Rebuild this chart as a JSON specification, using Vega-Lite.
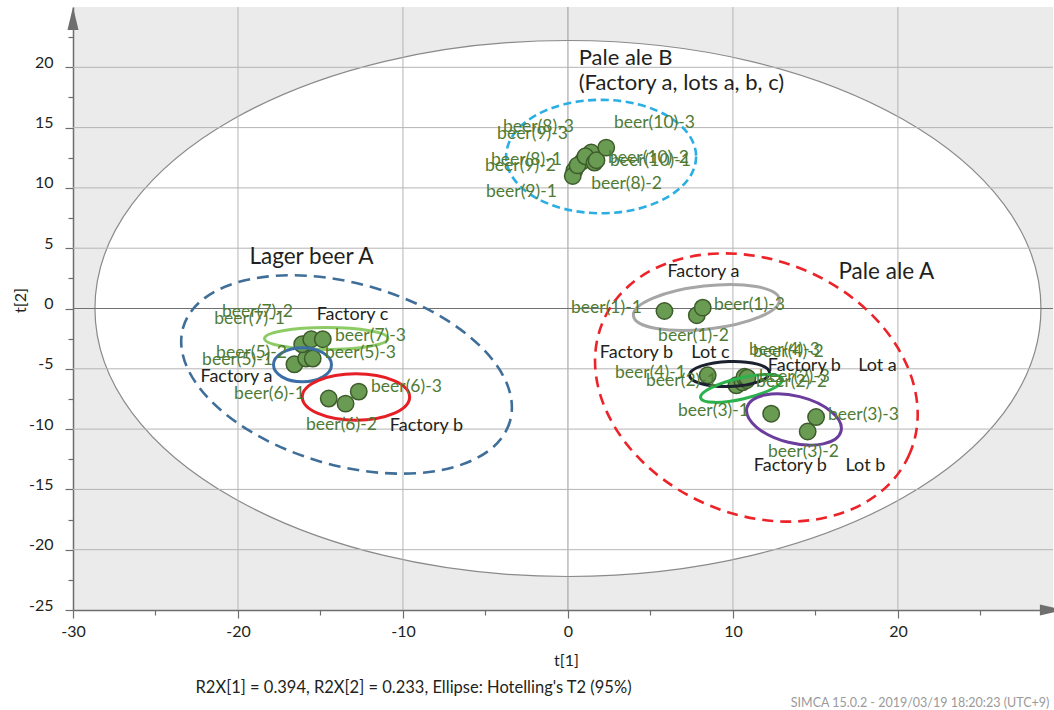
{
  "$schema": "https://vega.github.io/schema/vega-lite/v6.json",
  "width": 980,
  "height": 603,
  "autosize": "none",
  "padding": {"left": 73, "top": 7, "right": 1, "bottom": 100},
  "background": "white",
  "config": {
    "view": {"fill": "#ebebeb", "stroke": null},
    "font": "Lato",
    "axis": {
      "grid": false,
      "domainColor": "#6e6e6e",
      "domainWidth": 1.5,
      "tickColor": "#6e6e6e",
      "tickWidth": 1.2,
      "labelFont": "Lato",
      "labelFontSize": 16,
      "labelColor": "#231f20",
      "titleFont": "Lato",
      "titleFontSize": 16,
      "titleFontWeight": "normal",
      "titleColor": "#231f20",
      "labelFlush": false,
      "labelOverlap": false
    }
  },
  "datasets": {
    "points": [
      {"obs": "beer(1)-1", "t1": 5.85, "t2": -0.21},
      {"obs": "beer(1)-2", "t1": 7.81, "t2": -0.56},
      {"obs": "beer(1)-3", "t1": 8.17, "t2": 0.07},
      {"obs": "beer(2)-1", "t1": 10.21, "t2": -6.37},
      {"obs": "beer(2)-2", "t1": 10.58, "t2": -6.12},
      {"obs": "beer(2)-3", "t1": 10.82, "t2": -5.95},
      {"obs": "beer(3)-1", "t1": 12.32, "t2": -8.72},
      {"obs": "beer(3)-2", "t1": 14.53, "t2": -10.2},
      {"obs": "beer(3)-3", "t1": 15.04, "t2": -9.0},
      {"obs": "beer(4)-1", "t1": 8.47, "t2": -5.54},
      {"obs": "beer(4)-2", "t1": 10.7, "t2": -5.66},
      {"obs": "beer(4)-3", "t1": 10.88, "t2": -5.74},
      {"obs": "beer(5)-1", "t1": -16.58, "t2": -4.63},
      {"obs": "beer(5)-2", "t1": -15.87, "t2": -4.15},
      {"obs": "beer(5)-3", "t1": -15.47, "t2": -4.15},
      {"obs": "beer(6)-1", "t1": -14.5, "t2": -7.47},
      {"obs": "beer(6)-2", "t1": -13.48, "t2": -7.89},
      {"obs": "beer(6)-3", "t1": -12.68, "t2": -6.89},
      {"obs": "beer(7)-1", "t1": -16.11, "t2": -2.97},
      {"obs": "beer(7)-2", "t1": -15.56, "t2": -2.55},
      {"obs": "beer(7)-3", "t1": -14.86, "t2": -2.55},
      {"obs": "beer(8)-1", "t1": 0.88, "t2": 12.21},
      {"obs": "beer(8)-2", "t1": 0.39, "t2": 11.46},
      {"obs": "beer(8)-3", "t1": 1.41, "t2": 12.93},
      {"obs": "beer(9)-1", "t1": 0.29, "t2": 10.99},
      {"obs": "beer(9)-2", "t1": 0.58, "t2": 11.87},
      {"obs": "beer(9)-3", "t1": 1.06, "t2": 12.62},
      {"obs": "beer(10)-1", "t1": 1.61, "t2": 12.1},
      {"obs": "beer(10)-2", "t1": 1.73, "t2": 12.29},
      {"obs": "beer(10)-3", "t1": 2.32, "t2": 13.34}
    ],
    "obsLabels": [
      {"label": "beer(1)-1", "x": 2.33, "y": 0.08},
      {"label": "beer(1)-2", "x": 7.61, "y": -2.32},
      {"label": "beer(1)-3", "x": 11.0, "y": 0.33},
      {"label": "beer(2)-1", "x": 6.88, "y": -6.05},
      {"label": "beer(2)-2", "x": 13.55, "y": -6.13},
      {"label": "beer(2)-3", "x": 13.73, "y": -5.72},
      {"label": "beer(3)-1", "x": 8.82, "y": -8.54},
      {"label": "beer(3)-2", "x": 14.27, "y": -11.94},
      {"label": "beer(3)-3", "x": 17.91, "y": -8.79},
      {"label": "beer(4)-1", "x": 5.0, "y": -5.31},
      {"label": "beer(4)-2", "x": 13.36, "y": -3.57},
      {"label": "beer(4)-3", "x": 13.12, "y": -3.4},
      {"label": "beer(5)-1", "x": -20.03, "y": -4.23},
      {"label": "beer(5)-2", "x": -19.18, "y": -3.65},
      {"label": "beer(5)-3", "x": -12.58, "y": -3.73},
      {"label": "beer(6)-1", "x": -18.09, "y": -7.13},
      {"label": "beer(6)-2", "x": -13.73, "y": -9.62},
      {"label": "beer(6)-3", "x": -9.79, "y": -6.55},
      {"label": "beer(7)-1", "x": -19.3, "y": -0.91},
      {"label": "beer(7)-2", "x": -18.82, "y": -0.33},
      {"label": "beer(7)-3", "x": -11.97, "y": -2.32},
      {"label": "beer(8)-1", "x": -2.52, "y": 12.35},
      {"label": "beer(8)-2", "x": 3.55, "y": 10.36},
      {"label": "beer(8)-3", "x": -1.79, "y": 15.01},
      {"label": "beer(9)-1", "x": -2.82, "y": 9.62},
      {"label": "beer(9)-2", "x": -2.88, "y": 11.78},
      {"label": "beer(9)-3", "x": -2.15, "y": 14.43},
      {"label": "beer(10)-1", "x": 5.0, "y": 12.27},
      {"label": "beer(10)-2", "x": 4.88, "y": 12.52},
      {"label": "beer(10)-3", "x": 5.24, "y": 15.42}
    ],
    "notes": [
      {"text": "Pale ale B", "x": 0.65, "y": 20.73, "role": "block"},
      {"text": "(Factory a, lots a, b, c)", "x": 0.65, "y": 18.66, "role": "block"},
      {"text": "Lager beer A", "x": -15.55, "y": 4.23, "role": "group"},
      {"text": "Pale ale A", "x": 19.3, "y": 2.99, "role": "group"},
      {"text": "Factory c", "x": -13.06, "y": -0.5, "role": "sub"},
      {"text": "Factory a", "x": -20.09, "y": -5.64, "role": "sub"},
      {"text": "Factory b", "x": -8.58, "y": -9.78, "role": "sub"},
      {"text": "Factory a", "x": 8.21, "y": 2.99, "role": "sub"},
      {"text": "Factory b", "x": 4.15, "y": -3.73, "role": "sub"},
      {"text": "Lot c", "x": 8.64, "y": -3.73, "role": "sub"},
      {"text": "Factory b", "x": 14.33, "y": -4.73, "role": "sub"},
      {"text": "Lot a", "x": 18.76, "y": -4.73, "role": "sub"},
      {"text": "Factory b", "x": 13.48, "y": -13.1, "role": "sub"},
      {"text": "Lot b", "x": 18.03, "y": -13.1, "role": "sub"}
    ],
    "footer": [
      {"text": "R2X[1] = 0.394, R2X[2] = 0.233, Ellipse: Hotelling's T2 (95%)", "x": -9.36, "y": -31.43, "role": "caption"},
      {"text": "SIMCA 15.0.2 - 2019/03/19 18:20:23 (UTC+9)", "x": 29.18, "y": -32.67, "role": "stamp"}
    ],
    "ellipses": [
      {"group": "Hotelling T2 95", "t1": 0, "t2": 0},
      {"group": "Pale ale B", "t1": 2.01, "t2": 12.6},
      {"group": "Lager beer A", "t1": -13.42, "t2": -5.47},
      {"group": "Pale ale A", "t1": 11.42, "t2": -6.55},
      {"group": "Pale ale A Factory a", "t1": 8.39, "t2": 0.08},
      {"group": "Pale ale A Factory b Lot c", "t1": 9.79, "t2": -5.43},
      {"group": "Pale ale A Factory b Lot a", "t1": 10.52, "t2": -6.63},
      {"group": "Pale ale A Factory b Lot b", "t1": 13.7, "t2": -9.2},
      {"group": "Lager beer A Factory c", "t1": -14.65, "t2": -2.49},
      {"group": "Lager beer A Factory a", "t1": -16.09, "t2": -4.67},
      {"group": "Lager beer A Factory b", "t1": -12.85, "t2": -7.34}
    ],
    "gridX": [{"v": -20}, {"v": -10}, {"v": 0}, {"v": 10}, {"v": 20}],
    "gridY": [{"v": -20}, {"v": -15}, {"v": -10}, {"v": -5}, {"v": 0}, {"v": 5}, {"v": 10}, {"v": 15}, {"v": 20}],
    "arrows": [
      {"axis": "t2", "x": -30, "y": 25},
      {"axis": "t1", "x": 29.4, "y": -25}
    ]
  },
  "layer": [
    {
      "data": {"name": "ellipses"},
      "transform": [{"filter": "datum.group === 'Hotelling T2 95'"}],
      "mark": {"type": "point", "shape": "M1,0C1,0.3129,0.5523,0.5666,0,0.5666C-0.5523,0.5666,-1,0.3129,-1,0C-1,-0.3129,-0.5523,-0.5666,0,-0.5666C0.5523,-0.5666,1,-0.3129,1,0Z", "size": 894916, "filled": true, "fill": "white", "stroke": "#8a8a8a", "strokeWidth": 1.2, "opacity": 1},
      "encoding": {
        "x": {"field": "t1", "type": "quantitative", "scale": {"domain": [-30, 29.4], "nice": false, "zero": false},
          "axis": {"orient": "bottom", "values": [-30, -20, -10, 0, 10, 20], "tickSize": 8, "labelPadding": 5, "labelExpr": "'' + datum.value", "title": "t[1]", "titleX": 493, "titleY": 50, "titleBaseline": "middle"}},
        "y": {"field": "t2", "type": "quantitative", "scale": {"domain": [-25, 25], "nice": false, "zero": false},
          "axis": {"orient": "left", "values": [-25, -20, -15, -10, -5, 0, 5, 10, 15, 20], "tickSize": 8, "labelPadding": 12, "labelBaseline": "alphabetic", "labelExpr": "'' + datum.value", "title": "t[2]", "titleX": -53, "titleY": 293, "titleAngle": -90, "titleBaseline": "middle"}}
      }
    },
    {
      "data": {"name": "gridX"},
      "mark": {"type": "rule", "strokeWidth": 1},
      "encoding": {
        "x": {"field": "v", "type": "quantitative", "scale": {"domain": [-30, 29.4], "nice": false, "zero": false},
          "axis": {"orient": "bottom", "values": [-25, -15, -5, 5, 15, 25], "tickSize": 5, "labels": false, "domain": false, "title": null}},
        "stroke": {"condition": {"test": "datum.v === 0", "value": "#9a9a9a"}, "value": "#b5b5b5"}
      }
    },
    {
      "data": {"name": "gridY"},
      "mark": {"type": "rule", "strokeWidth": 1},
      "encoding": {
        "y": {"field": "v", "type": "quantitative", "scale": {"domain": [-25, 25], "nice": false, "zero": false},
          "axis": {"orient": "left", "values": [-22.5, -17.5, -12.5, -7.5, -2.5, 2.5, 7.5, 12.5, 17.5, 22.5], "tickSize": 5, "labels": false, "domain": false, "title": null}},
        "stroke": {"condition": {"test": "datum.v === 0", "value": "#707070"}, "value": "#b5b5b5"}
      }
    },
    {
      "data": {"name": "ellipses"},
      "transform": [{"filter": "datum.group === 'Pale ale B'"}],
      "mark": {"type": "point", "shape": "M1,0C1,0.3297,0.5523,0.597,0,0.597C-0.5523,0.597,-1,0.3297,-1,0C-1,-0.3297,-0.5523,-0.597,0,-0.597C0.5523,-0.597,1,-0.3297,1,0Z", "size": 36100, "filled": false, "stroke": "#2aaee4", "strokeWidth": 2.6, "strokeDash": [8, 4.5], "opacity": 1},
      "encoding": {
        "x": {"field": "t1", "type": "quantitative", "scale": {"domain": [-30, 29.4], "nice": false, "zero": false}, "axis": null},
        "y": {"field": "t2", "type": "quantitative", "scale": {"domain": [-25, 25], "nice": false, "zero": false}, "axis": null}
      }
    },
    {
      "data": {"name": "ellipses"},
      "transform": [{"filter": "datum.group === 'Lager beer A'"}],
      "mark": {"type": "point", "shape": "M1,0C1,0.2955,0.5523,0.535,0,0.535C-0.5523,0.535,-1,0.2955,-1,0C-1,-0.2955,-0.5523,-0.535,0,-0.535C0.5523,-0.535,1,-0.2955,1,0Z", "size": 115600, "angle": 16, "filled": false, "stroke": "#3f6e98", "strokeWidth": 2.6, "strokeDash": [12, 7], "opacity": 1},
      "encoding": {
        "x": {"field": "t1", "type": "quantitative", "scale": {"domain": [-30, 29.4], "nice": false, "zero": false}, "axis": null},
        "y": {"field": "t2", "type": "quantitative", "scale": {"domain": [-25, 25], "nice": false, "zero": false}, "axis": null}
      }
    },
    {
      "data": {"name": "ellipses"},
      "transform": [{"filter": "datum.group === 'Pale ale A'"}],
      "mark": {"type": "point", "shape": "M1,0C1,0.4197,0.5523,0.76,0,0.76C-0.5523,0.76,-1,0.4197,-1,0C-1,-0.4197,-0.5523,-0.76,0,-0.76C0.5523,-0.76,1,-0.4197,1,0Z", "size": 111556, "angle": 23.5, "filled": false, "stroke": "#ec2329", "strokeWidth": 2.6, "strokeDash": [11, 7], "opacity": 1},
      "encoding": {
        "x": {"field": "t1", "type": "quantitative", "scale": {"domain": [-30, 29.4], "nice": false, "zero": false}, "axis": null},
        "y": {"field": "t2", "type": "quantitative", "scale": {"domain": [-25, 25], "nice": false, "zero": false}, "axis": null}
      }
    },
    {
      "data": {"name": "ellipses"},
      "transform": [{"filter": "datum.group === 'Lager beer A Factory c'"}],
      "mark": {"type": "point", "shape": "M1,0C1,0.0983,0.5523,0.178,0,0.178C-0.5523,0.178,-1,0.0983,-1,0C-1,-0.0983,-0.5523,-0.178,0,-0.178C0.5523,-0.178,1,-0.0983,1,0Z", "size": 15228, "filled": false, "stroke": "#8dcb65", "strokeWidth": 3, "opacity": 1},
      "encoding": {
        "x": {"field": "t1", "type": "quantitative", "scale": {"domain": [-30, 29.4], "nice": false, "zero": false}, "axis": null},
        "y": {"field": "t2", "type": "quantitative", "scale": {"domain": [-25, 25], "nice": false, "zero": false}, "axis": null}
      }
    },
    {
      "data": {"name": "points"},
      "mark": {"type": "circle", "size": 270, "fill": "#6a9b52", "stroke": "#3d5c2c", "strokeWidth": 1.5, "opacity": 1},
      "encoding": {
        "x": {"field": "t1", "type": "quantitative", "scale": {"domain": [-30, 29.4], "nice": false, "zero": false}, "axis": null},
        "y": {"field": "t2", "type": "quantitative", "scale": {"domain": [-25, 25], "nice": false, "zero": false}, "axis": null},
        "tooltip": {"field": "obs"}
      }
    },
    {
      "data": {"name": "ellipses"},
      "transform": [{"filter": "datum.group === 'Lager beer A Factory a'"}],
      "mark": {"type": "point", "shape": "M1,0C1,0.3236,0.5523,0.586,0,0.586C-0.5523,0.586,-1,0.3236,-1,0C-1,-0.3236,-0.5523,-0.586,0,-0.586C0.5523,-0.586,1,-0.3236,1,0Z", "size": 3364, "filled": false, "stroke": "#3b6ea6", "strokeWidth": 3, "opacity": 1},
      "encoding": {
        "x": {"field": "t1", "type": "quantitative", "scale": {"domain": [-30, 29.4], "nice": false, "zero": false}, "axis": null},
        "y": {"field": "t2", "type": "quantitative", "scale": {"domain": [-25, 25], "nice": false, "zero": false}, "axis": null}
      }
    },
    {
      "data": {"name": "ellipses"},
      "transform": [{"filter": "datum.group === 'Lager beer A Factory b'"}],
      "mark": {"type": "point", "shape": "M1,0C1,0.2386,0.5523,0.432,0,0.432C-0.5523,0.432,-1,0.2386,-1,0C-1,-0.2386,-0.5523,-0.432,0,-0.432C0.5523,-0.432,1,-0.2386,1,0Z", "size": 11535, "filled": false, "stroke": "#e61e25", "strokeWidth": 3, "opacity": 1},
      "encoding": {
        "x": {"field": "t1", "type": "quantitative", "scale": {"domain": [-30, 29.4], "nice": false, "zero": false}, "axis": null},
        "y": {"field": "t2", "type": "quantitative", "scale": {"domain": [-25, 25], "nice": false, "zero": false}, "axis": null}
      }
    },
    {
      "data": {"name": "ellipses"},
      "transform": [{"filter": "datum.group === 'Pale ale A Factory a'"}],
      "mark": {"type": "point", "shape": "M1,0C1,0.1624,0.5523,0.294,0,0.294C-0.5523,0.294,-1,0.1624,-1,0C-1,-0.1624,-0.5523,-0.294,0,-0.294C0.5523,-0.294,1,-0.1624,1,0Z", "size": 21550, "angle": -6.4, "filled": false, "stroke": "#a6a6a6", "strokeWidth": 3, "opacity": 1},
      "encoding": {
        "x": {"field": "t1", "type": "quantitative", "scale": {"domain": [-30, 29.4], "nice": false, "zero": false}, "axis": null},
        "y": {"field": "t2", "type": "quantitative", "scale": {"domain": [-25, 25], "nice": false, "zero": false}, "axis": null}
      }
    },
    {
      "data": {"name": "ellipses"},
      "transform": [{"filter": "datum.group === 'Pale ale A Factory b Lot c'"}],
      "mark": {"type": "point", "shape": "M1,0C1,0.1726,0.5523,0.3125,0,0.3125C-0.5523,0.3125,-1,0.1726,-1,0C-1,-0.1726,-0.5523,-0.3125,0,-0.3125C0.5523,-0.3125,1,-0.1726,1,0Z", "size": 6400, "angle": -2, "filled": false, "stroke": "#1c2130", "strokeWidth": 3, "opacity": 1},
      "encoding": {
        "x": {"field": "t1", "type": "quantitative", "scale": {"domain": [-30, 29.4], "nice": false, "zero": false}, "axis": null},
        "y": {"field": "t2", "type": "quantitative", "scale": {"domain": [-25, 25], "nice": false, "zero": false}, "axis": null}
      }
    },
    {
      "data": {"name": "ellipses"},
      "transform": [{"filter": "datum.group === 'Pale ale A Factory b Lot a'"}],
      "mark": {"type": "point", "shape": "M1,0C1,0.1381,0.5523,0.25,0,0.25C-0.5523,0.25,-1,0.1381,-1,0C-1,-0.1381,-0.5523,-0.25,0,-0.25C0.5523,-0.25,1,-0.1381,1,0Z", "size": 7056, "angle": -13, "filled": false, "stroke": "#2bb24c", "strokeWidth": 3, "opacity": 1},
      "encoding": {
        "x": {"field": "t1", "type": "quantitative", "scale": {"domain": [-30, 29.4], "nice": false, "zero": false}, "axis": null},
        "y": {"field": "t2", "type": "quantitative", "scale": {"domain": [-25, 25], "nice": false, "zero": false}, "axis": null}
      }
    },
    {
      "data": {"name": "ellipses"},
      "transform": [{"filter": "datum.group === 'Pale ale A Factory b Lot b'"}],
      "mark": {"type": "point", "shape": "M1,0C1,0.2679,0.5523,0.485,0,0.485C-0.5523,0.485,-1,0.2679,-1,0C-1,-0.2679,-0.5523,-0.485,0,-0.485C0.5523,-0.485,1,-0.2679,1,0Z", "size": 9409, "angle": 14, "filled": false, "stroke": "#6a3d9c", "strokeWidth": 3, "opacity": 1},
      "encoding": {
        "x": {"field": "t1", "type": "quantitative", "scale": {"domain": [-30, 29.4], "nice": false, "zero": false}, "axis": null},
        "y": {"field": "t2", "type": "quantitative", "scale": {"domain": [-25, 25], "nice": false, "zero": false}, "axis": null}
      }
    },
    {
      "data": {"name": "obsLabels"},
      "mark": {"type": "text", "font": "Lato", "fontSize": 17.5, "fill": "#4f7b35", "align": "center", "baseline": "middle"},
      "encoding": {
        "x": {"field": "x", "type": "quantitative", "scale": {"domain": [-30, 29.4], "nice": false, "zero": false}, "axis": null},
        "y": {"field": "y", "type": "quantitative", "scale": {"domain": [-25, 25], "nice": false, "zero": false}, "axis": null},
        "text": {"field": "label"}
      }
    },
    {
      "data": {"name": "notes"},
      "transform": [{"filter": "datum.role === 'sub'"}],
      "mark": {"type": "text", "font": "Lato", "fontSize": 18, "fill": "#231f20", "align": "center", "baseline": "middle"},
      "encoding": {
        "x": {"field": "x", "type": "quantitative", "scale": {"domain": [-30, 29.4], "nice": false, "zero": false}, "axis": null},
        "y": {"field": "y", "type": "quantitative", "scale": {"domain": [-25, 25], "nice": false, "zero": false}, "axis": null},
        "text": {"field": "text"}
      }
    },
    {
      "data": {"name": "notes"},
      "transform": [{"filter": "datum.role === 'group'"}],
      "mark": {"type": "text", "font": "Lato", "fontSize": 22.5, "fill": "#231f20", "align": "center", "baseline": "middle"},
      "encoding": {
        "x": {"field": "x", "type": "quantitative", "scale": {"domain": [-30, 29.4], "nice": false, "zero": false}, "axis": null},
        "y": {"field": "y", "type": "quantitative", "scale": {"domain": [-25, 25], "nice": false, "zero": false}, "axis": null},
        "text": {"field": "text"}
      }
    },
    {
      "data": {"name": "notes"},
      "transform": [{"filter": "datum.role === 'block'"}],
      "mark": {"type": "text", "font": "Lato", "fontSize": 22, "fill": "#231f20", "align": "left", "baseline": "middle"},
      "encoding": {
        "x": {"field": "x", "type": "quantitative", "scale": {"domain": [-30, 29.4], "nice": false, "zero": false}, "axis": null},
        "y": {"field": "y", "type": "quantitative", "scale": {"domain": [-25, 25], "nice": false, "zero": false}, "axis": null},
        "text": {"field": "text"}
      }
    },
    {
      "data": {"name": "footer"},
      "transform": [{"filter": "datum.role === 'caption'"}],
      "mark": {"type": "text", "font": "Lato", "fontSize": 16.5, "fill": "#231f20", "align": "center", "baseline": "middle"},
      "encoding": {
        "x": {"field": "x", "type": "quantitative", "scale": {"domain": [-30, 29.4], "nice": false, "zero": false}, "axis": null},
        "y": {"field": "y", "type": "quantitative", "scale": {"domain": [-25, 25], "nice": false, "zero": false}, "axis": null},
        "text": {"field": "text"}
      }
    },
    {
      "data": {"name": "footer"},
      "transform": [{"filter": "datum.role === 'stamp'"}],
      "mark": {"type": "text", "font": "Lato", "fontSize": 12.5, "fill": "#9a9a9a", "align": "right", "baseline": "middle"},
      "encoding": {
        "x": {"field": "x", "type": "quantitative", "scale": {"domain": [-30, 29.4], "nice": false, "zero": false}, "axis": null},
        "y": {"field": "y", "type": "quantitative", "scale": {"domain": [-25, 25], "nice": false, "zero": false}, "axis": null},
        "text": {"field": "text"}
      }
    },
    {
      "data": {"name": "arrows"},
      "transform": [{"filter": "datum.axis === 't2'"}],
      "mark": {"type": "point", "shape": "M0,0L-0.24,1L0.24,1Z", "size": 2116, "filled": true, "fill": "#6e6e6e", "stroke": null, "opacity": 1},
      "encoding": {
        "x": {"field": "x", "type": "quantitative", "scale": {"domain": [-30, 29.4], "nice": false, "zero": false}, "axis": null},
        "y": {"field": "y", "type": "quantitative", "scale": {"domain": [-25, 25], "nice": false, "zero": false}, "axis": null}
      }
    },
    {
      "data": {"name": "arrows"},
      "transform": [{"filter": "datum.axis === 't1'"}],
      "mark": {"type": "point", "shape": "M0.43,0L-0.57,-0.24L-0.57,0.24Z", "size": 2116, "filled": true, "fill": "#6e6e6e", "stroke": null, "opacity": 1},
      "encoding": {
        "x": {"field": "x", "type": "quantitative", "scale": {"domain": [-30, 29.4], "nice": false, "zero": false}, "axis": null},
        "y": {"field": "y", "type": "quantitative", "scale": {"domain": [-25, 25], "nice": false, "zero": false}, "axis": null}
      }
    }
  ],
  "resolve": {"axis": {"x": "independent", "y": "independent"}}
}
